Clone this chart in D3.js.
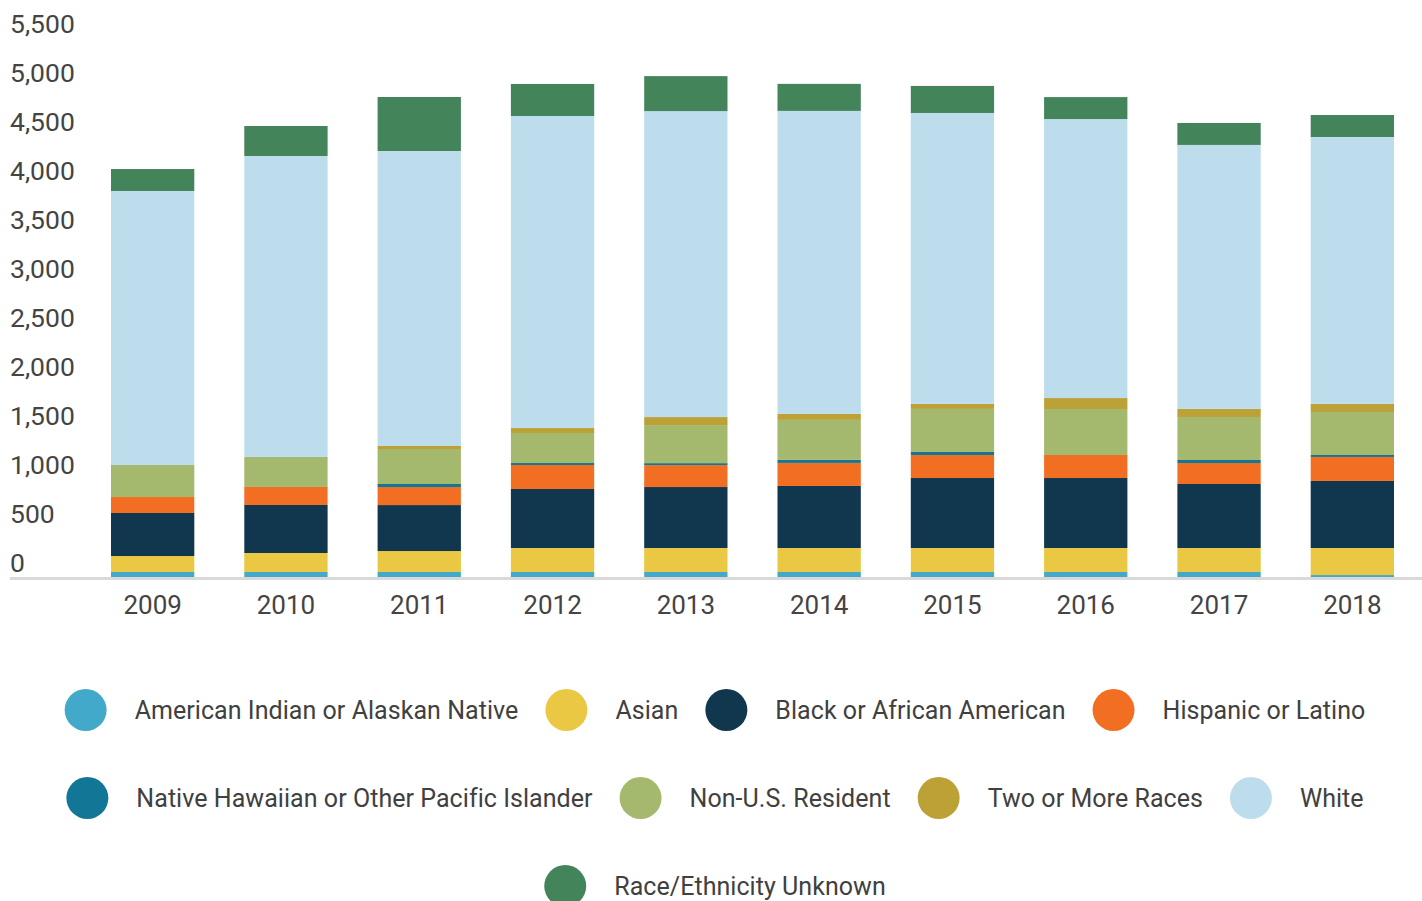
<!DOCTYPE html>
<html>
<head>
<meta charset="utf-8">
<script src="https://cdn.jsdelivr.net/npm/d3@7"></script>
<style>
  body { margin: 0; background: #fff; }
  svg text { font-family: Roboto, "Noto Sans", sans-serif; fill: #444; }
</style>
</head>
<body>
<div id="chart"></div>
<script>
// values
const years = ['2009', '2010', '2011', '2012', '2013', '2014', '2015', '2016', '2017', '2018']
const americanIndian = [51, 51, 51, 51, 51, 51, 51, 51, 51, 20]
const asian = [163, 194, 214, 245, 245, 245, 245, 245, 245, 276]
const black = [439, 490, 469, 602, 622, 633, 714, 714, 653, 684]
const hispanic = [163, 184, 184, 245, 224, 235, 235, 235, 214, 245]
const nativeHawaiian = [0, 0, 31, 20, 20, 31, 31, 0, 31, 20]
const nonResident = [327, 306, 357, 306, 388, 408, 439, 469, 439, 439]
const twoOrMore = [0, 0, 31, 51, 82, 61, 51, 112, 82, 82]
const white = [2796, 3071, 3010, 3184, 3122, 3092, 2969, 2847, 2694, 2724]
const unknown = [224, 306, 551, 327, 357, 276, 276, 224, 224, 224]

const seriesNames = [
  'American Indian or Alaskan Native', 'Asian', 'Black or African American',
  'Hispanic or Latino', 'Native Hawaiian or Other Pacific Islander',
  'Non-U.S. Resident', 'Two or More Races', 'White', 'Race/Ethnicity Unknown'
]
const seriesValues = [americanIndian, asian, black, hispanic, nativeHawaiian,
  nonResident, twoOrMore, white, unknown]
const seriesColors = ['#43a9cb', '#eac843', '#10374e', '#f26e22', '#127796',
  '#a4b86e', '#bca137', '#bddded', '#43845b']
const yTicks = [0, 500, 1000, 1500, 2000, 2500, 3000, 3500, 4000, 4500, 5000, 5500]
const legendRows = [[0, 1, 2, 3], [4, 5, 6, 7], [8]]

const width = 1422, height = 901

const svg = d3.select('#chart')
  .append('svg')
    .attr('width', width)
    .attr('height', height)

// table for the stack
const table = years.map((yr, i) => {
  const row = { year: yr }
  seriesNames.forEach((s, j) => { row[s] = seriesValues[j][i] })
  return row
})
const stacked = d3.stack().keys(seriesNames)(table)

const x = d3.scaleBand()
  .domain(years)
  .range([86, 1419])
  .paddingInner(0.375)
  .paddingOuter(0.1875)

const y = d3.scaleLinear()
  .domain([0, 5500])
  .range([577, 38])

const color = d3.scaleOrdinal().domain(seriesNames).range(seriesColors)

// y axis labels, sitting just above their value
const yAxis = svg.append('g')
  .attr('transform', 'translate(10,0)')
  .call(d3.axisLeft(y).tickValues(yTicks).tickSize(0).tickFormat(d3.format(',')))
yAxis.select('.domain').remove()
yAxis.selectAll('text')
  .attr('x', 0)
  .attr('dy', -6)
  .attr('text-anchor', 'start')
  .attr('dominant-baseline', 'auto')
  .style('font-size', '26.5px')
  .style('font-family', 'Roboto')
  .style('fill', '#444')

// bars
svg.append('g')
  .selectAll('g')
  .data(stacked)
  .join('g')
    .attr('fill', d => color(d.key))
  .selectAll('rect')
  .data(d => d)
  .join('rect')
    .attr('x', d => x(d.data.year))
    .attr('y', d => y(d[1]))
    .attr('width', x.bandwidth())
    .attr('height', d => y(d[0]) - y(d[1]))

// baseline
svg.append('line')
  .attr('x1', 10).attr('x2', 1422)
  .attr('y1', y(0) + 1.5).attr('y2', y(0) + 1.5)
  .attr('stroke', '#d9d9d9')
  .attr('stroke-width', 3)

// x axis
const xAxis = svg.append('g')
  .attr('transform', `translate(0,${y(0)})`)
  .call(d3.axisBottom(x).tickSize(0))
xAxis.select('.domain').remove()
xAxis.selectAll('text')
  .attr('y', 37)
  .attr('dy', 0)
  .style('font-size', '26px')
  .style('font-family', 'Roboto')
  .style('fill', '#444')

// legend: centred rows
const legend = svg.append('g')
const rowY = [710, 798, 886]
const r = 21
legendRows.forEach((row, ri) => {
  const g = legend.append('g')
  let cx = 0
  row.forEach(idx => {
    g.append('circle')
      .attr('cx', cx + r)
      .attr('cy', rowY[ri])
      .attr('r', r)
      .attr('fill', seriesColors[idx])
    const t = g.append('text')
      .attr('x', cx + r + 49)
      .attr('y', rowY[ri])
      .attr('dominant-baseline', 'central')
      .style('font-size', '25px')
      .style('letter-spacing', '0.05px')
      .style('fill', '#404040')
      .text(seriesNames[idx])
    cx = cx + r + 49 + t.node().getComputedTextLength() + 27
  })
  const rowWidth = cx - 27
  g.attr('transform', `translate(${715 - rowWidth / 2},0)`)
})
</script>
</body>
</html>
